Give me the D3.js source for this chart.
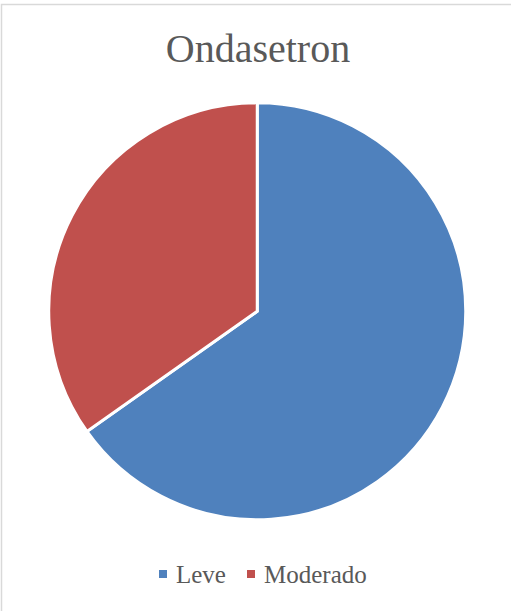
<!DOCTYPE html>
<html><head><meta charset="utf-8">
<script src="https://cdn.jsdelivr.net/npm/d3@7"></script>
<style>html,body{margin:0;padding:0;background:#fff;}</style>
</head><body>
<svg id="c" width="511" height="611"></svg>
<script>
const title = "Ondasetron";
const categories = ["Leve", "Moderado"];
const values = [15, 8];
const colors = ["#4F81BD", "#C0504D"];

const svg = d3.select("#c");
svg.append("rect").attr("x",1.5).attr("y",4.5).attr("width",520).attr("height",620)
  .attr("fill","#fff").attr("stroke","#d9d9d9").attr("stroke-width",1.5);

svg.append("text").attr("x",258).attr("y",62).attr("text-anchor","middle")
  .attr("font-family","Liberation Serif, serif").attr("font-size",40).attr("fill","#595959")
  .text(title);

const cx = 257.25, cy = 311.25, r = 208.5;
const data = categories.map((c,i)=>({name:c, value:values[i], color:colors[i]}));
const pie = d3.pie().value(d=>d.value).sort(null);
const arc = d3.arc().innerRadius(0).outerRadius(r);
const g = svg.append("g").attr("transform",`translate(${cx},${cy})`);
g.selectAll("path").data(pie(data)).join("path")
  .attr("d",arc).attr("fill",d=>d.data.color)
  .attr("stroke","#fff").attr("stroke-width",3).attr("stroke-linejoin","miter");

const legend = svg.append("g");
const items = [{x:159, tx:176}, {x:247, tx:264}];
data.forEach((d,i)=>{
  legend.append("rect").attr("x",items[i].x).attr("y",570).attr("width",8).attr("height",8).attr("fill",d.color);
  legend.append("text").attr("x",items[i].tx).attr("y",583).attr("font-family","Liberation Serif, serif")
    .attr("font-size",25).attr("fill","#595959").text(d.name);
});
</script>
</body></html>
